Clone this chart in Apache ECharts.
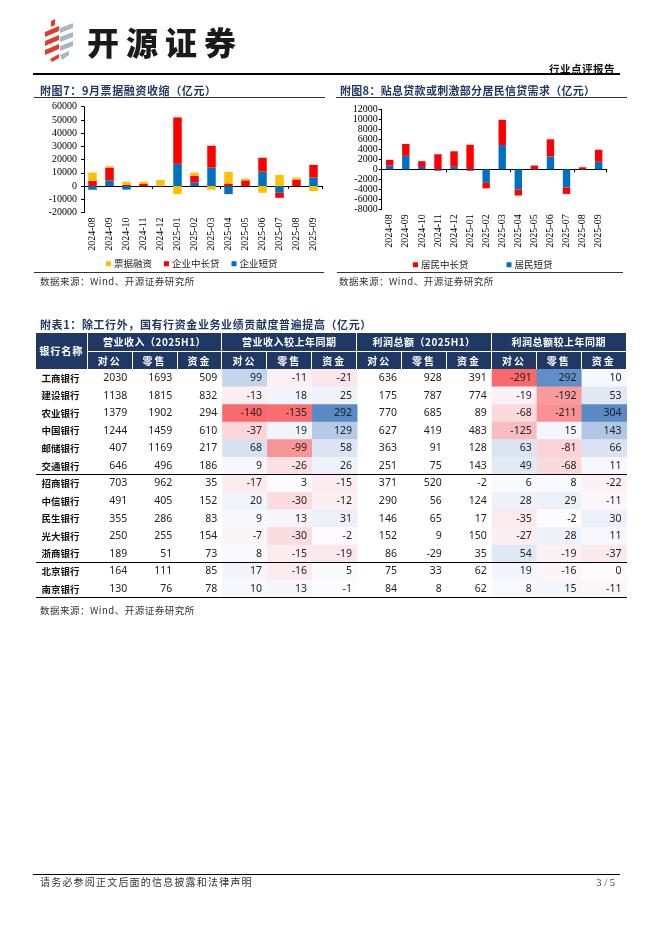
<!DOCTYPE html>
<html><head><meta charset="utf-8">
<script src="https://cdn.jsdelivr.net/npm/echarts/dist/echarts.min.js"></script>
<style>
html,body{margin:0;padding:0;background:#fff;width:662px;height:936px;overflow:hidden;}
#page{position:relative;width:662px;height:936px;}
#chart{position:absolute;left:0;top:0;width:662px;height:936px;}
.t{position:absolute;white-space:nowrap;font-family:"Noto Sans CJK SC","Noto Sans",sans-serif;}
.ln{position:absolute;background:#000;}
.hc{position:absolute;background:#1F3864;color:#fff;font-family:"Noto Sans CJK SC",sans-serif;font-weight:700;font-size:10px;display:flex;align-items:center;justify-content:center;white-space:nowrap;}
</style></head>
<body><div id="page">
<div id="chart"></div>
<svg style="position:absolute;left:42px;top:18px" width="34" height="46" viewBox="0 0 34 46">
  <polygon points="9,3 13,1 13,7 9,9" fill="#E23B2E"/>
  <polygon points="3,14 17,8 17,13 3,19" fill="#E23B2E"/>
  <polygon points="3,23 17,17 17,22 3,28" fill="#E23B2E"/>
  <polygon points="3,32 17,26 17,31 3,37" fill="#E23B2E"/>
  <polygon points="8,41 17,36 17,40 10,44" fill="#E23B2E"/>
  <polygon points="18,10 31,5 31,10 18,15" fill="#A7B7C4"/>
  <polygon points="18,19 31,14 31,19 18,24" fill="#A7B7C4"/>
  <polygon points="18,28 31,23 31,28 18,33" fill="#A7B7C4"/>
  <polygon points="18,37 27,33 27,37 20,42" fill="#A7B7C4"/>
</svg>
<div id="overlay"></div>
</div>
<script>
// ---------------- data ----------------
const months = ['2024-08','2024-09','2024-10','2024-11','2024-12','2025-01','2025-02','2025-03','2025-04','2025-05','2025-06','2025-07','2025-08','2025-09'];
// 附图7 (亿元)
const billFinancing = [6300, 1000, 2400, 1500, 4400, -6100, 2300, -2800, 8900, 1300, -5100, 8400, 1500, -3800];
const corpMidLong   = [3900, 9800, 900, 1800, 200, 35100, 5300, 16500, 1800, 4300, 10500, -3800, 4900, 9500];
const corpShort     = [-2800, 4200, -2700, -100, -300, 16800, 2600, 14000, -6100, -100, 10900, -5100, -100, 6500];
// 附图8 (亿元)
const householdMidLong = [1150, 2360, 1150, 3000, 3100, 4900, -1100, 5050, -1200, 750, 3440, -1280, 400, 2400];
const householdShort   = [740, 2700, 470, -300, 500, -300, -2700, 4850, -4040, -100, 2560, -3640, -100, 1500];
// axis ranges
const chart1Axis = {min:-20000, max:60000, interval:10000};
const chart2Axis = {min:-8000, max:12000, interval:2000};
// 附表1
const bankNames = ['工商银行','建设银行','农业银行','中国银行','邮储银行','交通银行','招商银行','中信银行','民生银行','光大银行','浙商银行','北京银行','南京银行'];
const groupTitles = ['营业收入（2025H1）','营业收入较上年同期','利润总额（2025H1）','利润总额较上年同期'];
const subCols = ['对公','零售','资金'];
const revenue = [[2030,1693,509],[1138,1815,832],[1379,1902,294],[1244,1459,610],[407,1169,217],[646,496,186],[703,962,35],[491,405,152],[355,286,83],[250,255,154],[189,51,73],[164,111,85],[130,76,78]];
const revenueChg = [[99,-11,-21],[-13,18,25],[-140,-135,292],[-37,19,129],[68,-99,58],[9,-26,26],[-17,3,-15],[20,-30,-12],[9,13,31],[-7,-30,-2],[8,-15,-19],[17,-16,5],[10,13,-1]];
const profit = [[636,928,391],[175,787,774],[770,685,89],[627,419,483],[363,91,128],[251,75,143],[371,520,-2],[290,56,124],[146,65,17],[152,9,150],[86,-29,35],[75,33,62],[84,8,62]];
const profitChg = [[-291,292,10],[-19,-192,53],[-68,-211,304],[-125,15,143],[63,-81,66],[49,-68,11],[6,8,-22],[28,29,-11],[-35,-2,30],[-27,28,11],[54,-19,-37],[19,-16,0],[8,15,-11]];

// ---------------- layout ----------------
const serif = '"Liberation Serif","Times New Roman",serif';
const cjk = '"Noto Sans CJK SC","Noto Sans",sans-serif';
const navy = '#1F3864';
const G1 = {left:84, top:106.7, width:238, height:105.8};
const G2 = {left:381.7, top:109.3, width:225, height:100};
const TB = {left:87.7, top:369.3, colW:44.92, rowH:17.57, nameLeft:36, right:627, headTop:332.7};
const G3 = {left:TB.left, top:TB.top, width:TB.colW*12, height:TB.rowH*bankNames.length};

// ---------------- overlay text ----------------
const ov = document.getElementById('overlay');
function txt(s, x, yc, size, o) {
  o = o || {};
  const d = document.createElement('div');
  d.className = 't';
  d.textContent = s;
  const lh = Math.round(size * 1.4);
  d.style.fontSize = size + 'px';
  d.style.lineHeight = lh + 'px';
  d.style.top = (yc - lh / 2) + 'px';
  if (o.right != null) d.style.right = (662 - o.right) + 'px'; else d.style.left = x + 'px';
  if (o.bold) d.style.fontWeight = o.bold;
  d.style.color = o.color || '#222';
  if (o.ls) d.style.letterSpacing = o.ls + 'px';
  if (o.font) d.style.fontFamily = o.font;
  ov.appendChild(d);
  return d;
}
function line(x, y, w, h, c) {
  const d = document.createElement('div');
  d.className = 'ln';
  d.style.left = x + 'px'; d.style.top = y + 'px';
  d.style.width = w + 'px'; d.style.height = h + 'px';
  if (c) d.style.background = c;
  ov.appendChild(d);
}
function hcell(s, x, y, w, h, o) {
  const d = document.createElement('div');
  d.className = 'hc';
  d.textContent = s;
  d.style.left = x + 'px'; d.style.top = y + 'px';
  d.style.width = w + 'px'; d.style.height = h + 'px';
  if (o && o.ls) d.style.letterSpacing = o.ls + 'px';
  ov.appendChild(d);
}

// header
txt('开源证券', 87, 41.5, 32, {bold:900, color:'#1a1a1a', ls:7});
txt('行业点评报告', 0, 68, 10.5, {bold:700, color:'#111', right:615, ls:0.5});
line(33, 73, 587, 1.5);
// chart titles
txt('附图7：9月票据融资收缩（亿元）', 40, 90.5, 11, {bold:700, color:navy, ls:0.6});
txt('附图8：贴息贷款或刺激部分居民信贷需求（亿元）', 340, 90.5, 11, {bold:700, color:navy, ls:0.3});
line(34, 97, 291, 1, '#333');
line(336, 97, 291, 1, '#333');
line(34, 271.5, 290, 1, '#333');
line(337, 271.5, 286, 1, '#333');
txt('数据来源：Wind、开源证券研究所', 40, 281, 9.5, {color:'#333', ls:0.5});
txt('数据来源：Wind、开源证券研究所', 339, 281, 9.5, {color:'#333', ls:0.5});
// table title
txt('附表1：除工行外，国有行资金业务业绩贡献度普遍提高（亿元）', 40, 324, 11, {bold:700, color:navy, ls:0.6});
// table header
const hTop = TB.headTop, r1h = 18.5, r2top = hTop + 19.5, r2h = TB.top - hTop - 19.5 - 0.5;
hcell('银行名称', TB.nameLeft, hTop, TB.left - TB.nameLeft - 1, TB.top - hTop - 0.5, {ls:1});
groupTitles.forEach((g, gi) => {
  const x0 = TB.left + gi * 3 * TB.colW;
  hcell(g, x0, hTop, 3 * TB.colW - 1, r1h, {ls:0.5});
  subCols.forEach((s, si) => {
    hcell(s, x0 + si * TB.colW, r2top, TB.colW - 1, r2h, {ls:2});
  });
});
// table separators
line(TB.nameLeft, TB.top + 6 * TB.rowH - 0.7, TB.right - TB.nameLeft, 1.4);
line(TB.nameLeft, TB.top + 11 * TB.rowH - 0.7, TB.right - TB.nameLeft, 1.4);
line(TB.nameLeft, TB.top + 13 * TB.rowH - 0.7, TB.right - TB.nameLeft, 1.4);
txt('数据来源：Wind、开源证券研究所', 40, 610, 9.5, {color:'#333', ls:0.5});
// footer
line(33, 873.5, 587, 1);
txt('请务必参阅正文后面的信息披露和法律声明', 40, 882, 10, {color:'#333', ls:1.2});
txt('3 / 5', 0, 882, 10.5, {color:'#333', right:615, font:serif});

// ---------------- table data ----------------
const plainData = [], chgData = [];
function norm(arr) {
  const flat = arr.flat();
  const mn = Math.min(...flat), mx = Math.max(...flat);
  return v => v < 0 ? v / (-mn) : (v > 0 ? v / mx : 0);
}
const nRev = norm(revenueChg), nPro = norm(profitChg);
bankNames.forEach((b, r) => {
  for (let c = 0; c < 3; c++) {
    plainData.push([c, r, revenue[r][c]]);
    plainData.push([6 + c, r, profit[r][c]]);
    chgData.push([3 + c, r, revenueChg[r][c], nRev(revenueChg[r][c])]);
    chgData.push([9 + c, r, profitChg[r][c], nPro(profitChg[r][c])]);
  }
});
const tableCols = [];
groupTitles.forEach(g => subCols.forEach(s => tableCols.push(g + s)));

// ---------------- chart ----------------
const chart = echarts.init(document.getElementById('chart'));
function labelAxis(gi) {
  return {type:'category', gridIndex:gi, data:months, position:'bottom',
    axisLine:{show:false, onZero:false}, axisTick:{show:false}, splitLine:{show:false},
    axisLabel:{rotate:90, interval:0, margin:5, fontFamily:serif, fontSize:10, color:'#000'}};
}
function zeroAxis(gi, yi) {
  return {type:'category', gridIndex:gi, data:months, position:'top',
    axisLine:{show:true, onZero:true, onZeroAxisIndex:yi, lineStyle:{color:'#000', width:1}},
    axisTick:{show:true, inside:true, length:3, lineStyle:{color:'#000'}},
    axisLabel:{show:false}, splitLine:{show:false}};
}
function valAxis(gi, a, margin) {
  return {type:'value', gridIndex:gi, min:a.min, max:a.max, interval:a.interval,
    axisLine:{show:true, lineStyle:{color:'#000', width:1}},
    axisTick:{show:true, length:3, lineStyle:{color:'#000'}},
    splitLine:{show:false},
    axisLabel:{margin:margin, fontFamily:serif, fontSize:10, color:'#000', formatter:v => String(v)}};
}
const tableLabel = {show:true, position:'insideRight', distance:5.5, formatter:p => String(p.value[2]),
  fontFamily:'"Noto Sans",sans-serif', fontSize:10.5, color:'#222'};

chart.setOption({
  animation:false,
  grid:[
    {left:G1.left, top:G1.top, width:G1.width, height:G1.height},
    {left:G2.left, top:G2.top, width:G2.width, height:G2.height},
    {left:G3.left, top:G3.top, width:G3.width, height:G3.height}
  ],
  xAxis:[
    labelAxis(0), zeroAxis(0, 0), labelAxis(1), zeroAxis(1, 1),
    {type:'category', gridIndex:2, data:tableCols, show:false}
  ],
  yAxis:[
    valAxis(0, chart1Axis, 7),
    valAxis(1, chart2Axis, 4),
    {type:'category', gridIndex:2, data:bankNames, inverse:true,
      axisLine:{show:false}, axisTick:{show:false}, splitLine:{show:false},
      axisLabel:{align:'left', margin:TB.left - 41.5, fontFamily:cjk, fontWeight:'bold', fontSize:9.5, color:'#111'}}
  ],
  legend:[
    {data:['票据融资','企业中长贷','企业短贷'], left:101, top:254, icon:'rect', itemWidth:5, itemHeight:5, itemGap:12,
      textStyle:{fontFamily:cjk, fontSize:9.5, color:'#222', padding:[0,0,0,-2]}, selectedMode:false},
    {data:['居民中长贷','居民短贷'], left:408, top:255, icon:'rect', itemWidth:5, itemHeight:5, itemGap:38,
      textStyle:{fontFamily:cjk, fontSize:9.5, color:'#222', padding:[0,0,0,-2]}, selectedMode:false}
  ],
  visualMap:[
    {type:'continuous', show:false, seriesIndex:6, dimension:3, min:-1, max:1,
      inRange:{color:['#F8696B','#FCFCFF','#5A8AC6']}},
    {type:'continuous', show:false, seriesIndex:5, dimension:2, min:-100000, max:100000,
      inRange:{color:['rgba(255,255,255,0)','rgba(255,255,255,0)']}}
  ],
  series:[
    {name:'企业短贷', type:'bar', xAxisIndex:0, yAxisIndex:0, stack:'c1', data:corpShort, barWidth:'50%', itemStyle:{color:'#0070C0'}},
    {name:'企业中长贷', type:'bar', xAxisIndex:0, yAxisIndex:0, stack:'c1', data:corpMidLong, barWidth:'50%', itemStyle:{color:'#FF0000'}},
    {name:'票据融资', type:'bar', xAxisIndex:0, yAxisIndex:0, stack:'c1', data:billFinancing, barWidth:'50%', itemStyle:{color:'#FFC000'}},
    {name:'居民短贷', type:'bar', xAxisIndex:2, yAxisIndex:1, stack:'c2', data:householdShort, barWidth:'46%', itemStyle:{color:'#0070C0'}},
    {name:'居民中长贷', type:'bar', xAxisIndex:2, yAxisIndex:1, stack:'c2', data:householdMidLong, barWidth:'46%', itemStyle:{color:'#FF0000'}},
    {name:'table-values', type:'heatmap', xAxisIndex:4, yAxisIndex:2, data:plainData, label:tableLabel,
      itemStyle:{color:'rgba(255,255,255,0)'}, emphasis:{disabled:true}},
    {name:'table-changes', type:'heatmap', xAxisIndex:4, yAxisIndex:2, data:chgData, label:tableLabel,
      emphasis:{disabled:true}}
  ]
});
</script>
</body></html>
